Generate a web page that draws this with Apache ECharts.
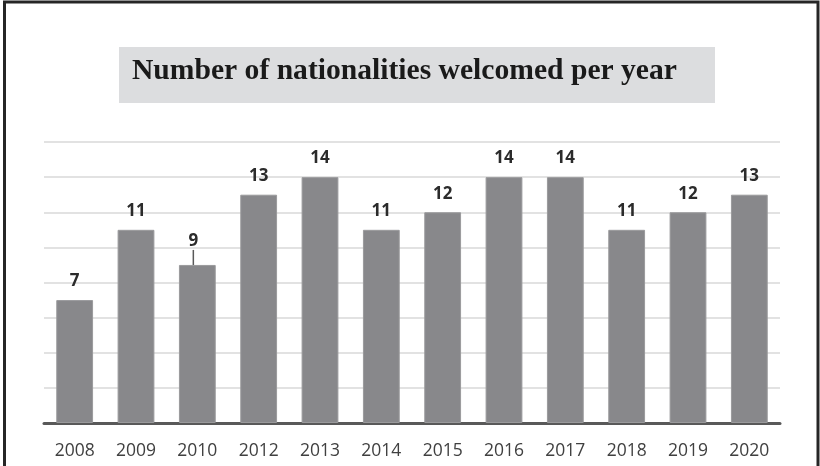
<!DOCTYPE html>
<html>
<head>
<meta charset="utf-8">
<script src="https://cdn.jsdelivr.net/npm/echarts@6/dist/echarts.min.js"></script>
<style>
  html, body { margin: 0; padding: 0; background: #ffffff; }
  #chart { width: 820px; height: 466px; }
</style>
</head>
<body>
<div id="chart"></div>
<script>
// Years shown on the horizontal axis (2011 is not part of the series)
const years = ['2008', '2009', '2010', '2012', '2013', '2014', '2015', '2016', '2017', '2018', '2019', '2020'];
// Number of nationalities welcomed each year
const nationalities = [7, 11, 9, 13, 14, 11, 12, 14, 14, 11, 12, 13];
const chartTitle = 'Number of nationalities welcomed per year';

// the 2010 label sits slightly off its bar with a short leader line
const offsetLabelIndex = 2;

const barData = nationalities.map(function (v, i) {
  if (i === offsetLabelIndex) {
    return { value: v, labelLine: { show: true, lineStyle: { color: '#595959', width: 1.5 } } };
  }
  return v;
});

const chart = echarts.init(document.getElementById('chart'), null, { renderer: 'canvas' });

chart.setOption({
  backgroundColor: '#ffffff',
  animation: false,
  graphic: [
    // page frame: left, top and right edges
    {
      type: 'polyline',
      z: 0,
      shape: { points: [[4.5, 466], [4.5, 2], [818, 2], [818, 466]] },
      style: { stroke: '#262626', lineWidth: 3, fill: null }
    },
    // grey band behind the heading
    {
      type: 'rect',
      z: 0,
      shape: { x: 119, y: 47, width: 596, height: 56 },
      style: { fill: '#dcdddf' }
    }
  ],
  title: {
    text: chartTitle,
    left: 132,
    top: 56,
    padding: 0,
    textStyle: {
      fontFamily: '"Liberation Serif", "Times New Roman", serif',
      fontWeight: 'bold',
      fontSize: 29.6,
      color: '#1a1a1a'
    }
  },
  grid: {
    left: 44,
    right: 40,
    top: 142,
    bottom: 43,
    containLabel: false
  },
  xAxis: {
    type: 'category',
    data: years,
    axisLine: { show: true, lineStyle: { color: '#595959', width: 3 } },
    axisTick: { show: false },
    axisLabel: {
      margin: 19,
      fontFamily: '"Open Sans", sans-serif',
      fontSize: 17.5,
      color: '#404040'
    }
  },
  yAxis: {
    type: 'value',
    min: 0,
    max: 16,
    interval: 2,
    axisLine: { show: false },
    axisTick: { show: false },
    axisLabel: { show: false },
    splitLine: { show: true, lineStyle: { color: '#d9d9d9', width: 1.5 } }
  },
  series: [{
    type: 'bar',
    data: barData,
    barWidth: '60%',
    itemStyle: { color: '#88888b', borderColor: '#9a9a9c', borderWidth: 1 },
    label: {
      show: true,
      position: 'top',
      distance: 10,
      fontFamily: '"Open Sans", sans-serif',
      fontWeight: 'bold',
      fontSize: 17,
      color: '#2b2b2b'
    },
    labelLine: { show: false },
    labelLayout: function (params) {
      if (params.dataIndex === offsetLabelIndex) {
        return { dx: -4, dy: -5 };
      }
      return {};
    }
  }]
});
</script>
</body>
</html>
